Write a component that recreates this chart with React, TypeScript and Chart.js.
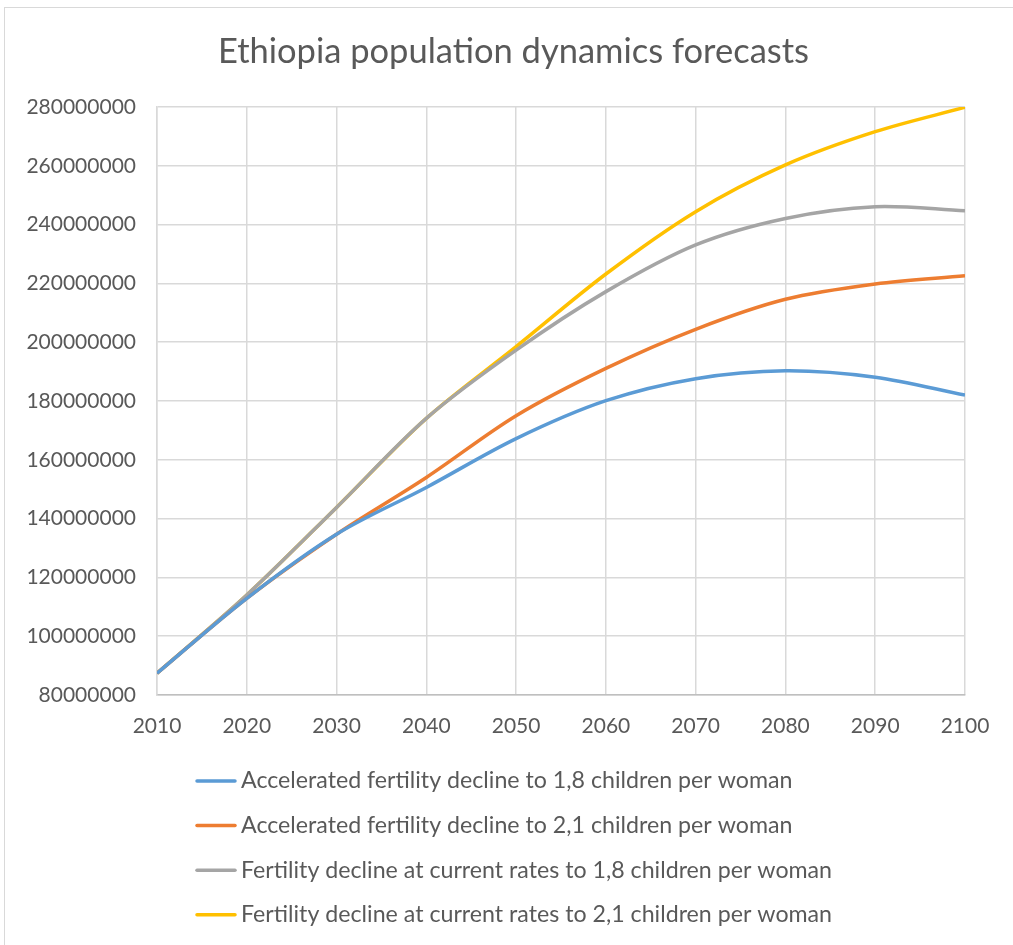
import React, { useEffect, useRef } from "react";
import { Chart, registerables } from "chart.js";

Chart.register(...registerables);

const years = [2010, 2020, 2030, 2040, 2050, 2060, 2070, 2080, 2090, 2100];
const accelerated18 = [87400000, 112900000, 134700000, 150600000, 167200000, 180100000, 187600000, 190300000, 188100000, 182000000];
const accelerated21 = [87400000, 112900000, 134700000, 154000000, 175000000, 191100000, 204400000, 214600000, 219800000, 222600000];
const current18 = [87400000, 114000000, 143800000, 174100000, 197300000, 217200000, 233100000, 242100000, 246100000, 244700000];
const current21 = [87400000, 114000000, 143800000, 174100000, 198500000, 223200000, 244400000, 260300000, 271600000, 279900000];

const seriesLabels = [
  "Accelerated fertility decline to 1,8 children per woman",
  "Accelerated fertility decline to 2,1 children per woman",
  "Fertility decline at current rates to 1,8 children per woman",
  "Fertility decline at current rates to 2,1 children per woman",
];
const seriesColors = ["#5b9bd5", "#ed7d31", "#a5a5a5", "#ffc000"];
const seriesValues = [accelerated18, accelerated21, current18, current21];

const titleText = "Ethiopia population dynamics forecasts";
const FONT = "Lato";
const TEXT = "#595959";

const titlePlugin = {
  id: "centeredTitle",
  afterDraw(chart: any) {
    const { ctx, width } = chart;
    ctx.save();
    ctx.font = `34.5px ${FONT}`;
    ctx.fillStyle = TEXT;
    ctx.textAlign = "center";
    ctx.textBaseline = "middle";
    ctx.fillText(titleText, width / 2 + 7, 52);
    ctx.restore();
  },
};

const legendPlugin = {
  id: "stackedLegend",
  afterDraw(chart: any) {
    const { ctx, chartArea, data } = chart;
    const x0 = chartArea.left + 40;
    const y0 = chartArea.bottom + 86;
    const rowGap = 44.6;
    ctx.save();
    ctx.font = `23.2px ${FONT}`;
    ctx.textBaseline = "middle";
    ctx.textAlign = "left";
    data.datasets.forEach((ds: any, i: number) => {
      const y = y0 + i * rowGap;
      ctx.strokeStyle = ds.borderColor;
      ctx.lineWidth = 3.5;
      ctx.lineCap = "round";
      ctx.beginPath();
      ctx.moveTo(x0, y);
      ctx.lineTo(x0 + 38, y);
      ctx.stroke();
      ctx.fillStyle = TEXT;
      ctx.fillText(ds.label, x0 + 44, y);
    });
    ctx.restore();
  },
};

export default function App() {
  const ref = useRef<HTMLCanvasElement | null>(null);
  useEffect(() => {
    if (!ref.current) return;
    const chart = new Chart(ref.current, {
      type: "line",
      data: {
        datasets: seriesValues.map((vals, i) => ({
          label: seriesLabels[i],
          data: years.map((yr, j) => ({ x: yr, y: vals[j] })),
          borderColor: seriesColors[i],
          backgroundColor: seriesColors[i],
          borderWidth: 3.5,
          pointRadius: 0,
          tension: 0.33,
          fill: false,
        })),
      },
      options: {
        responsive: false,
        animation: false,
        devicePixelRatio: 1,
        layout: { padding: { left: 0, right: 48, top: 107, bottom: 200 } },
        plugins: {
          legend: { display: false },
          tooltip: { enabled: false },
          title: { display: false },
        },
        scales: {
          x: {
            type: "linear",
            min: 2010,
            max: 2100,
            afterFit: (s: any) => { s.height = 50; },
            ticks: {
              stepSize: 10,
              color: TEXT,
              font: { family: FONT, size: 21 },
              padding: 19,
              maxRotation: 0,
              callback: (v: any) => String(v),
            },
            grid: { color: "#d9d9d9", lineWidth: 1.5, drawTicks: false },
            border: { color: "#bfbfbf", width: 1.5 },
          },
          y: {
            min: 80000000,
            max: 280000000,
            afterFit: (s: any) => { s.width = 157; },
            ticks: {
              stepSize: 20000000,
              color: TEXT,
              font: { family: FONT, size: 21 },
              padding: 21,
              callback: (v: any) => String(v),
            },
            grid: { color: "#d9d9d9", lineWidth: 1.5, drawTicks: false },
            border: { color: "#d9d9d9", width: 1.5 },
          },
        },
      },
      plugins: [titlePlugin, legendPlugin],
    });
    return () => chart.destroy();
  }, []);
  return (
    <>
      <div
        style={{
          position: "absolute",
          left: 4,
          top: 7,
          width: 1009,
          height: 938,
          boxSizing: "border-box",
          borderLeft: "1px solid #d9d9d9",
          borderTop: "1px solid #d9d9d9",
        }}
      />
      <canvas
        ref={ref}
        width={1013}
        height={945}
        style={{ position: "absolute", left: 0, top: 0, width: 1013, height: 945 }}
      />
    </>
  );
}
